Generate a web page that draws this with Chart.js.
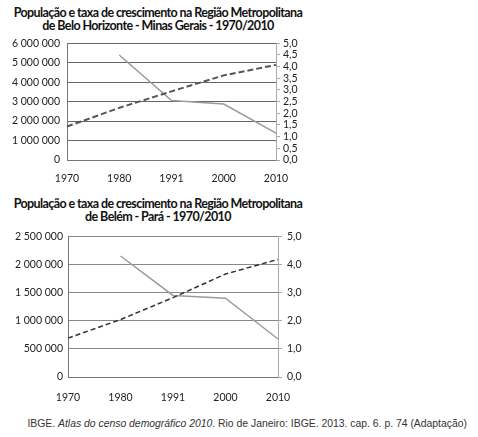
<!DOCTYPE html>
<html>
<head>
<meta charset="utf-8">
<script src="https://cdn.jsdelivr.net/npm/chart.js@4/dist/chart.umd.min.js"></script>
<style>
  body { margin: 0; background: #fff; width: 478px; height: 437px; position: relative; overflow: hidden; }
  .title {
    position: absolute; left: 0; width: 316px; text-align: center;
    font: bold 12.5px Lato, sans-serif; letter-spacing: -0.6px; line-height: 13px; color: #111;
  }
  .box { position: absolute; left: 0; width: 330px; }
  .source {
    position: absolute; right: 11px; top: 418px;
    font: 10.4px "Liberation Sans", Arial, sans-serif; color: #333; white-space: nowrap;
  }
</style>
</head>
<body>
<div class="title" style="top:6px">População e taxa de crescimento na Região Metropolitana<br>de Belo Horizonte - Minas Gerais - 1970/2010</div>
<div class="box" style="top:30px;height:153px"><canvas id="bhChart"></canvas></div>

<div class="title" style="top:197px">População e taxa de crescimento na Região Metropolitana<br>de Belém - Pará - 1970/2010</div>
<div class="box" style="top:225px;height:176px"><canvas id="belemChart"></canvas></div>

<div class="source">IBGE. <i>Atlas do censo demográfico 2010</i>. Rio de Janeiro: IBGE. 2013. cap. 6. p. 74 (Adaptação)</div>

<script>
const years = ["1970", "1980", "1991", "2000", "2010"];

// Belo Horizonte
const bhPopulation = [1720000, 2680000, 3530000, 4350000, 4890000];
const bhRate = [null, 4.5, 2.55, 2.4, 1.15];

// Belém
const belemPopulation = [690000, 1020000, 1410000, 1830000, 2090000];
const belemRate = [null, 4.3, 2.9, 2.8, 1.35];

const TICK_FONT = { family: "Lato", size: 10.5 };

function fmtPop(v) {
  return String(v).replace(/\B(?=(\d{3})+(?!\d))/g, " ");
}
function fmtRate(v) {
  return Number(v).toFixed(1).replace(".", ",");
}

function drawChart(id, pop, rate, cfg) {
  const ctx = document.getElementById(id);
  return new Chart(ctx, {
    type: "line",
    data: {
      labels: years,
      datasets: [
        {
          data: pop,
          yAxisID: "y",
          borderColor: cfg.popColor,
          borderWidth: cfg.popWidth,
          borderDash: cfg.dash,
          pointRadius: 0,
          fill: false,
          tension: 0
        },
        {
          data: rate,
          yAxisID: "y1",
          borderColor: "#9a9a9a",
          borderWidth: 1.5,
          pointRadius: 0,
          fill: false,
          tension: 0
        }
      ]
    },
    options: {
      responsive: true,
      maintainAspectRatio: false,
      animation: false,
      layout: { padding: { top: 10, left: 0, right: 0, bottom: 0 } },
      scales: {
        x: {
          offset: false,
          grid: { display: false },
          border: { color: "#777", width: 1 },
          ticks: { color: "#222", font: TICK_FONT, padding: cfg.xPad, maxRotation: 0, autoSkip: false },
          afterFit: s => { s.height = cfg.xHeight; }
        },
        y: {
          position: "left",
          min: 0,
          max: cfg.popMax,
          grid: { color: cfg.gridColor, lineWidth: 1, drawTicks: false },
          border: { color: "#777", width: 1 },
          ticks: { stepSize: cfg.popStep, color: "#222", font: TICK_FONT, padding: cfg.leftPad, autoSkip: false, callback: fmtPop },
          afterFit: s => { s.width = cfg.left; }
        },
        y1: {
          position: "right",
          min: 0,
          max: 5,
          grid: { drawOnChartArea: false, color: "#aaa", tickLength: 4 },
          border: { color: "#aaa", width: 1 },
          ticks: { stepSize: cfg.rateStep, color: "#222", font: TICK_FONT, padding: cfg.rightPad, autoSkip: false, callback: fmtRate },
          afterFit: s => { s.width = 330 - cfg.right; }
        }
      },
      plugins: {
        legend: { display: false },
        tooltip: { enabled: false }
      }
    }
  });
}

drawChart("bhChart", bhPopulation, bhRate, {
  popColor: "#555", popWidth: 2, dash: [6, 3],
  popMax: 6000000, popStep: 1000000, rateStep: 0.5,
  gridColor: "#666", left: 67, right: 276,
  xHeight: 23, xPad: 4, leftPad: 7, rightPad: 3
});

drawChart("belemChart", belemPopulation, belemRate, {
  popColor: "#333", popWidth: 1.5, dash: [5, 3],
  popMax: 2500000, popStep: 500000, rateStep: 1,
  gridColor: "#888", left: 68, right: 278,
  xHeight: 24, xPad: 6, leftPad: 5, rightPad: 5
});
</script>
</body>
</html>
